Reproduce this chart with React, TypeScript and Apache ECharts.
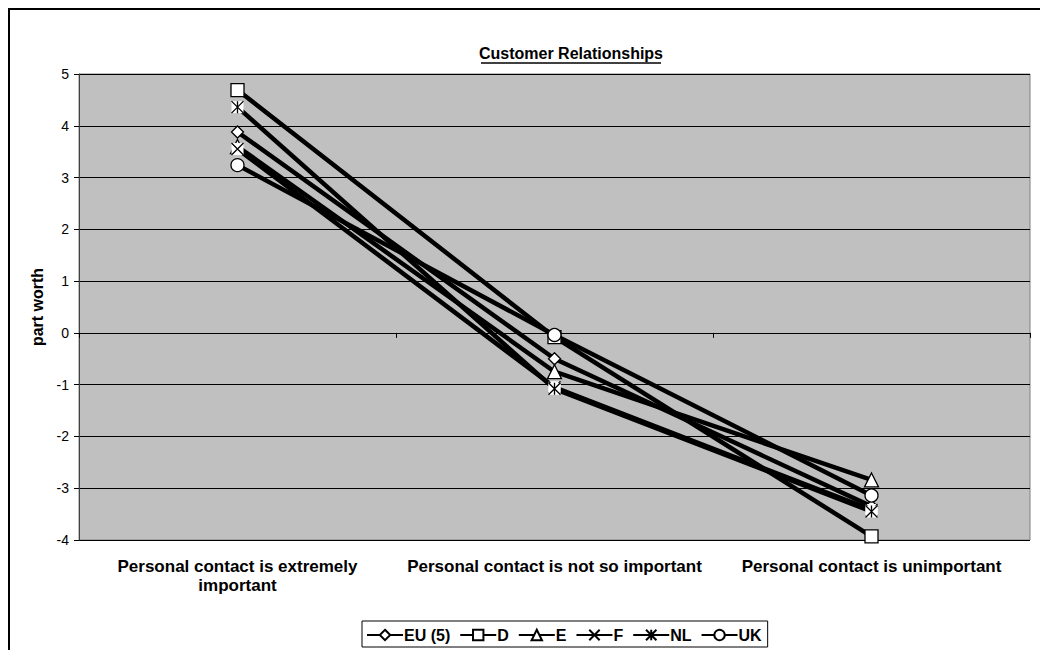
import React, { useEffect, useRef } from "react";
import * as echarts from "echarts";

const categories = [
  "Personal contact is extremely\nimportant",
  "Personal contact is not so important",
  "Personal contact is unimportant",
];
const seriesNames = ["EU (5)", "D", "E", "F", "NL", "UK"];
const euValues = [3.88, -0.5, -3.35];
const dValues = [4.69, -0.08, -3.93];
const eValues = [3.6, -0.75, -2.84];
const fValues = [3.55, -1.05, -3.42];
const nlValues = [4.36, -1.08, -3.45];
const ukValues = [3.24, -0.04, -3.14];
const yTicks = { min: -4, max: 5, interval: 1 };

const X_PATH = "path://M0,0L10,10M10,0L0,10";
const AST_PATH = "path://M0,0L10,10M10,0L0,10M5,0L5,10";

export default function App() {
  const ref = useRef<HTMLDivElement>(null);
  useEffect(() => {
    const chart = echarts.init(ref.current!, undefined, { renderer: "svg" });
    const font = "'Liberation Sans', Arial, sans-serif";
    const all = [euValues, dValues, eValues, fValues, nlValues, ukValues];
    const symbols = ["diamond", "rect", "triangle", X_PATH, AST_PATH, "circle"];
    const sizes = [12, 13, 14, 12, 12, 13];
    const series: any[] = [];
    all.forEach((vals, i) => {
      const isCross = i === 3 || i === 4;
      if (isCross) {
        series.push({
          type: "line",
          name: "_bg" + i,
          data: vals,
          symbol: "rect",
          symbolSize: 12,
          showSymbol: true,
          lineStyle: { width: 0, opacity: 0 },
          itemStyle: { color: "#ffffff", borderWidth: 0 },
          silent: true,
          xAxisIndex: 0,
        });
      }
      series.push({
        type: "line",
        name: seriesNames[i],
        data: vals,
        symbol: symbols[i],
        symbolSize: sizes[i],
        showSymbol: true,
        lineStyle: { color: "#000000", width: 4.5 },
        itemStyle: isCross
          ? { color: "#000000", borderColor: "#000000", borderWidth: 1.3 }
          : { color: "#ffffff", borderColor: "#000000", borderWidth: 1.3 },
        xAxisIndex: 0,
      });
    });
    chart.setOption({
      animation: false,
      backgroundColor: "#ffffff",
      textStyle: { fontFamily: font },
      graphic: [
        {
          type: "rect",
          shape: { x: 9, y: 9, width: 1200, height: 1000 },
          style: { fill: "none", stroke: "#000000", lineWidth: 2 },
          silent: true,
        },
        {
          type: "text",
          x: 571,
          y: 53,
          style: {
            text: "Customer Relationships",
            font: "bold 16px 'Liberation Sans', Arial, sans-serif",
            fill: "#000000",
            align: "center",
            verticalAlign: "middle",
          },
        },
        {
          type: "line",
          shape: { x1: 481, y1: 63, x2: 661, y2: 63 },
          style: { stroke: "#000000", lineWidth: 1.5 },
        },
      ],
      grid: {
        left: 79,
        right: 10,
        top: 74,
        bottom: 110,
        show: true,
        backgroundColor: "#c0c0c0",
        borderColor: "#808080",
        borderWidth: 1,
      },
      legend: {
        data: seriesNames,
        bottom: 3,
        left: 362,
        orient: "horizontal",
        itemWidth: 36,
        itemHeight: 13,
        itemGap: 9,
        borderColor: "#000000",
        borderWidth: 1,
        padding: [6, 6, 4, 4],
        textStyle: { fontFamily: font, fontSize: 16, fontWeight: "bold", color: "#000000", padding: [0, 0, 0, -4] },
        inactiveColor: "#000",
      },
      xAxis: [
        {
          type: "category",
          data: categories,
          position: "bottom",
          axisLine: { show: false, onZero: false },
          axisTick: { show: false },
          axisLabel: {
            interval: 0,
            color: "#000000",
            fontFamily: font,
            fontSize: 17,
            fontWeight: "bold",
            lineHeight: 19,
            margin: 17,
          },
          splitLine: { show: false },
        },
        {
          type: "category",
          data: categories,
          position: "bottom",
          axisLine: { show: true, onZero: true, lineStyle: { color: "#000000", width: 1 } },
          axisTick: { show: true, length: 5, lineStyle: { color: "#000000" } },
          axisLabel: { show: false },
          splitLine: { show: false },
        },
      ],
      yAxis: {
        type: "value",
        min: yTicks.min,
        max: yTicks.max,
        interval: yTicks.interval,
        name: "part worth",
        nameLocation: "middle",
        nameGap: 33,
        nameRotate: 90,
        nameTextStyle: { fontFamily: font, fontSize: 16, fontWeight: "bold", color: "#000000" },
        axisLine: { show: true, lineStyle: { color: "#404040", width: 1 } },
        axisTick: { show: true, inside: false, length: 5, lineStyle: { color: "#000000" } },
        axisLabel: { color: "#000000", fontFamily: font, fontSize: 14, margin: 10 },
        splitLine: { show: true, lineStyle: { color: "#000000", width: 1 } },
      },
      series,
    });
    return () => chart.dispose();
  }, []);
  return (
    <div
      ref={ref}
      style={{ position: "fixed", left: 0, top: 0, width: 1040, height: 650 }}
    />
  );
}
